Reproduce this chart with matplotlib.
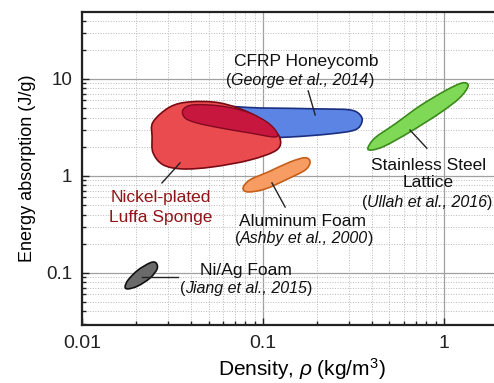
"""Energy absorption vs density map for cellular materials."""

import matplotlib.pyplot as plt
import numpy as np
from matplotlib.offsetbox import AnnotationBbox, HPacker, TextArea
from matplotlib.path import Path
from matplotlib.patches import PathPatch

plt.rcParams["font.family"] = ["Liberation Sans", "DejaVu Sans"]
plt.rcParams["mathtext.fontset"] = "custom"
plt.rcParams["mathtext.rm"] = "Liberation Sans"
plt.rcParams["mathtext.it"] = "Liberation Sans:italic"

# region outlines, density (kg/m3) and energy absorption (J/g)
luffa_rho = [0.0247, 0.0306, 0.0395, 0.0578, 0.0847, 0.109, 0.124, 0.119,
             0.0847, 0.0530, 0.0361, 0.0281, 0.0247, 0.0244]
luffa_e = [3.60, 5.14, 5.80, 5.66, 4.46, 3.20, 2.47, 1.85,
           1.46, 1.24, 1.18, 1.30, 1.73, 2.52]

luffa_core_rho = [0.0361, 0.0410, 0.0578, 0.0817, 0.105, 0.119, 0.116,
                  0.0847, 0.0578, 0.0431, 0.0371]
luffa_core_e = [4.79, 5.40, 5.27, 4.57, 3.60, 2.84, 2.52,
                2.77, 3.13, 3.52, 3.96]

cfrp_rho = [0.0509, 0.0962, 0.206, 0.303, 0.344, 0.352, 0.322, 0.234,
            0.141, 0.0847, 0.0543]
cfrp_e = [5.02, 5.02, 4.91, 4.79, 4.26, 3.60, 2.98, 2.71, 2.52, 2.47, 2.65]

steel_rho = [0.380, 0.416, 0.536, 0.736, 1.01, 1.26, 1.36, 1.22, 0.951,
             0.649, 0.472, 0.400]
steel_e = [1.94, 2.47, 3.43, 5.27, 7.51, 9.09, 8.47, 6.37, 4.46,
           2.84, 2.04, 1.85]

alu_rho = [0.0776, 0.0847, 0.107, 0.141, 0.171, 0.182, 0.171, 0.137,
           0.103, 0.0826]
alu_e = [0.751, 0.910, 1.10, 1.39, 1.54, 1.39, 1.15, 0.931, 0.734, 0.684]

niag_rho = [0.0173, 0.0180, 0.0204, 0.0238, 0.0256, 0.0260, 0.0238,
            0.0204, 0.0180]
niag_e = [0.0718, 0.0847, 0.107, 0.127, 0.127, 0.110, 0.0887,
          0.0734, 0.0684]


def blob(ax, rho, e, face, edge, lw=1.2, z=2):
    # closed Catmull-Rom curve through the outline, built in log space
    p = np.column_stack([np.log10(rho), np.log10(e)])
    n = len(p)
    verts = [p[0]]
    codes = [Path.MOVETO]
    for i in range(n):
        p0, p1, p2, p3 = p[i - 1], p[i], p[(i + 1) % n], p[(i + 2) % n]
        verts += [p1 + (p2 - p0) / 6, p2 - (p3 - p1) / 6, p2]
        codes += [Path.CURVE4] * 3
    verts = 10 ** np.array(verts)
    ax.add_patch(PathPatch(Path(verts, codes), facecolor=face, edgecolor=edge,
                           lw=lw, zorder=z))


def ref(ax, x, y, name, size=11.5):
    # italic reference with upright brackets
    up = dict(fontsize=size, color="#111111")
    it = dict(fontsize=size, color="#111111", style="italic")
    box = HPacker(children=[TextArea("(", textprops=up),
                            TextArea(name, textprops=it),
                            TextArea(")", textprops=up)],
                  sep=0, pad=0, align="baseline")
    ab = AnnotationBbox(box, (x, y), xycoords=ax.transAxes, frameon=False,
                        box_alignment=(0.5, 0.5), pad=0, zorder=6)
    ax.add_artist(ab)


fig = plt.figure(figsize=(4.94, 3.83), dpi=100)
ax = fig.add_axes([0.166, 0.1514, 0.834, 0.8172])
ax.set_xscale("log")
ax.set_yscale("log")
ax.set_xlim(0.01, 1.89)
ax.set_ylim(0.029, 49)

ax.grid(which="major", color="#a0a0a0", lw=0.9, ls="-", zorder=0)
ax.grid(which="minor", color="#b8b8b8", lw=0.7, ls=":", zorder=0)
ax.set_axisbelow(True)

blob(ax, cfrp_rho, cfrp_e, "#5b84e4", "#1a2f80", z=2)
blob(ax, luffa_rho, luffa_e, "#ea4b4f", "#7a0a12", z=3)
blob(ax, luffa_core_rho, luffa_core_e, "#c8173f", "#800a20", lw=1.0, z=4)
blob(ax, steel_rho, steel_e, "#7fd957", "#3c8a1c", z=2)
blob(ax, alu_rho, alu_e, "#f79c62", "#c65f1a", z=2)
blob(ax, niag_rho, niag_e, "#6a6a6a", "#111111", z=2)

t = ax.transAxes
leaders = [
    ((0.549, 0.748), (0.566, 0.671)),
    ((0.796, 0.623), (0.837, 0.565)),
    ((0.238, 0.518), (0.194, 0.454)),
    ((0.461, 0.454), (0.493, 0.377)),
    ((0.146, 0.153), (0.233, 0.153)),
]
for (x0, y0), (x1, y1) in leaders:
    ax.plot([x0, x1], [y0, y1], color="#222222", lw=1.0, transform=t, zorder=5)

kw = dict(transform=t, ha="center", va="center", zorder=6, color="#111111")
big = 12.5
ax.text(0.544, 0.843, "CFRP Honeycomb", fontsize=big, **kw)
ref(ax, 0.529, 0.780, "George et al., 2014")
ax.text(0.840, 0.511, "Stainless Steel", fontsize=big, **kw)
ax.text(0.840, 0.454, "Lattice", fontsize=big, **kw)
ref(ax, 0.838, 0.393, "Ullah et al., 2016")
kw["color"] = "#921418"
ax.text(0.192, 0.409, "Nickel-plated", fontsize=big, **kw)
ax.text(0.192, 0.342, "Luffa Sponge", fontsize=big, **kw)
kw["color"] = "#111111"
ax.text(0.536, 0.332, "Aluminum Foam", fontsize=big, **kw)
ref(ax, 0.539, 0.278, "Ashby et al., 2000")
ax.text(0.398, 0.173, "Ni/Ag Foam", fontsize=big, **kw)
ref(ax, 0.398, 0.118, "Jiang et al., 2015")

ax.set_xticks([0.01, 0.1, 1])
ax.set_xticklabels(["0.01", "0.1", "1"])
ax.set_yticks([0.1, 1, 10])
ax.set_yticklabels(["0.1", "1", "10"])
ax.tick_params(which="both", direction="in", width=1.0,
               top=False, right=False, colors="#222222")
ax.tick_params(axis="x", labelsize=14)
ax.tick_params(axis="y", labelsize=13.5)
ax.tick_params(which="major", length=5, pad=7)
ax.tick_params(which="minor", length=3)
for s in ["left", "bottom", "top"]:
    ax.spines[s].set_linewidth(1.6)
    ax.spines[s].set_color("#222222")
ax.spines["right"].set_visible(False)

ax.set_xlabel(r"Density, $\rho$ (kg/m$^3$)", fontsize=15, labelpad=3)
ax.xaxis.label.set_x(0.534)
ax.set_ylabel("Energy absorption (J/g)", fontsize=13, labelpad=7)

fig.savefig("out.png", dpi=100)
